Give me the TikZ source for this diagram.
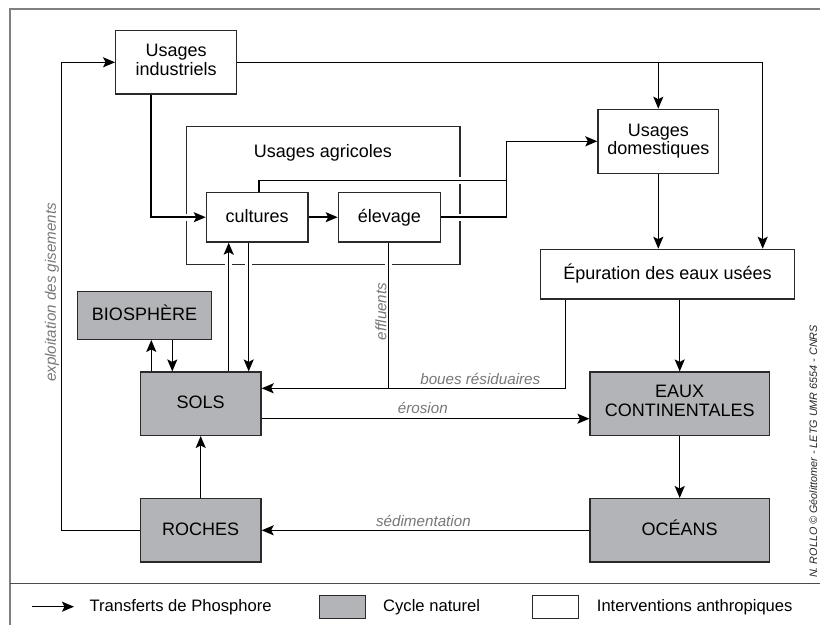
\documentclass[tikz,border=0pt]{standalone}
\usepackage{fontspec}
\setmainfont{Liberation Sans}
\usetikzlibrary{arrows.meta}
\definecolor{natgray}{HTML}{B2B4B7}
\definecolor{lblgray}{HTML}{777777}
\definecolor{boxline}{HTML}{2A2A2A}
\begin{document}
\begin{tikzpicture}[x=1pt,y=-1pt,
  box/.style={draw=boxline,line width=1.25pt,inner sep=0pt,align=center,font=\fontsize{18}{18.7}\selectfont,text=black},
  nat/.style={box,fill=natgray},
  hum/.style={box,fill=white},
  one/.style={text height=12.9pt,text depth=2.9pt},
  sz/.style 2 args={minimum width=#1pt,minimum height=#2pt},
  arr/.style={line width=1.5pt,-{Stealth[length=12pt,width=10pt,inset=2.5pt]}},
  ln/.style={line width=1.5pt},
  lbl/.style={font=\fontsize{15.2}{16}\selectfont\itshape,text=lblgray,inner sep=0pt},
  leg/.style={font=\fontsize{16.6}{18}\selectfont,inner sep=0pt,anchor=base west},
  gap/.style={fill=white,minimum size=7pt,inner sep=0pt}
]
\useasboundingbox (0,0) rectangle (820,625);
% frame
\draw[line width=1.6pt,color=black!50] (10,625) -- (10,9) -- (820,9);
\draw[line width=1.2pt,color=black!70] (10,583.3) -- (820,583.3);

% nodes
\node[hum,sz={273.7}{137.6}] (agri) at (323.15,195.5) {};
\node[font=\fontsize{18}{18.7}\selectfont,inner sep=0pt,anchor=base,text=black] (agrit) at (323,157.3) {Usages agricoles};
\node[hum,sz={121}{63.3}] (ind) at (176.2,62.3) {Usages\\industriels\strut};
\node[hum,one,sz={101.7}{49.7}] (cult) at (257.2,217.2) {cultures};
\node[hum,one,sz={102}{49.7}] (elev) at (389.3,217.2) {élevage};
\node[hum,sz={120.7}{64}] (dom) at (658.3,141.3) {Usages\\domestiques};
\node[hum,one,sz={253.6}{49.7}] (ep) at (667.5,274.2) {Épuration des eaux usées};
\node[nat,one,sz={133.6}{47.6}] (bio) at (144.5,315.5) {BIOSPHÈRE};
\node[nat,one,sz={120.7}{63.3}] (sols) at (200.7,403.7) {SOLS};
\node[nat,one,sz={120.7}{63.3}] (roc) at (200.7,530.3) {ROCHES};
\node[nat,sz={179.3}{63.3}] (eaux) at (679.7,403.7) {EAUX\\CONTINENTALES\strut};
\node[nat,one,sz={179.3}{63.3}] (oce) at (679.7,530.3) {OCÉANS};

% helper coordinates
\coordinate (xr) at (762.7,0);
\coordinate (x151) at (151,0);
\coordinate (xL) at (61.7,0);
\coordinate (jA) at (506.7,180.7);
\coordinate (x259) at (259,0);
\coordinate (x229) at (228.7,0);
\coordinate (x249) at (248.7,0);
\coordinate (jE) at (388.3,388.3);
\coordinate (x565) at (565.3,0);
\coordinate (yEr) at (0,418.7);
\coordinate (xb1) at (151.3,0);
\coordinate (xb2) at (172.3,0);

% gaps in the agricultural frame where lines cross
\node[gap] (g1) at (agri.west |- cult.west) {};
\node[gap] (g2) at (agri.east |- jA) {};
\node[gap] (g3) at (agri.east |- elev.east) {};
\node[gap] (g4) at (agri.south -| x229) {};
\node[gap] (g5) at (agri.south -| x249) {};
\node[gap] (g6) at (agri.south -| jE) {};

% connectors
\draw[arr] (ind.east) -| (xr |- ep.north);
\draw[arr] (dom.north |- ind.east) -- (dom.north);
\draw[arr] (ind.south -| x151) |- (cult.west);
\draw[arr] (roc.west) -| (xL |- ind.west) -- (ind.west);
\draw[arr] (cult.east) -- (elev.west);
\draw[ln] (cult.north -| x259) |- (jA);
\draw[arr] (elev.east) -| (jA |- dom.west) -- (dom.west);
\draw[arr] (dom.south) -- (dom.south |- ep.north);
\draw[arr] (sols.north -| x229) -- (cult.south -| x229);
\draw[arr] (cult.south -| x249) -- (sols.north -| x249);
\draw[ln] (elev.south -| jE) -- (jE);
\draw[arr] (ep.south -| x565) |- (sols.east |- jE);
\draw[arr] (sols.east |- yEr) -- (eaux.west |- yEr);
\draw[arr] (ep.south -| eaux.north) -- (eaux.north);
\draw[arr] (eaux.south) -- (oce.north);
\draw[arr] (oce.west) -- (roc.east);
\draw[arr] (roc.north) -- (sols.south);
\draw[arr] (sols.north -| xb1) -- (bio.south -| xb1);
\draw[arr] (bio.south -| xb2) -- (sols.north -| xb2);

% labels
\node[lbl,rotate=90] (expl) at (52,292.4) {exploitation des gisements};
\node[lbl,rotate=90] (effl) at (381,311.5) {effluents};
\node[lbl,anchor=base] (boues) at (480.3,384) {boues résiduaires};
\node[lbl,anchor=base] (eros) at (422.8,413) {érosion};
\node[lbl,anchor=base] (sedi) at (423.4,526) {sédimentation};
\node[font=\fontsize{10.8}{12}\selectfont\itshape,text=black!85,rotate=90,inner sep=0pt] (copy) at (813.3,451.5) {N. ROLLO © Géolittomer - LETG UMR 6554 - CNRS};

% legend
\coordinate (la) at (32,606.7);
\coordinate (lb) at (74,606.7);
\draw[arr] (la) -- (lb);
\node[leg] (l1) at (89.3,611.7) {Transferts de Phosphore};
\node[nat,sz={46.4}{23.4}] (lg) at (342.5,607) {};
\node[leg] (l2) at (383,611.7) {Cycle naturel};
\node[hum,sz={46}{23.4}] (lw) at (555.3,607) {};
\node[leg] (l3) at (596.7,611.7) {Interventions anthropiques};
\end{tikzpicture}
\end{document}
